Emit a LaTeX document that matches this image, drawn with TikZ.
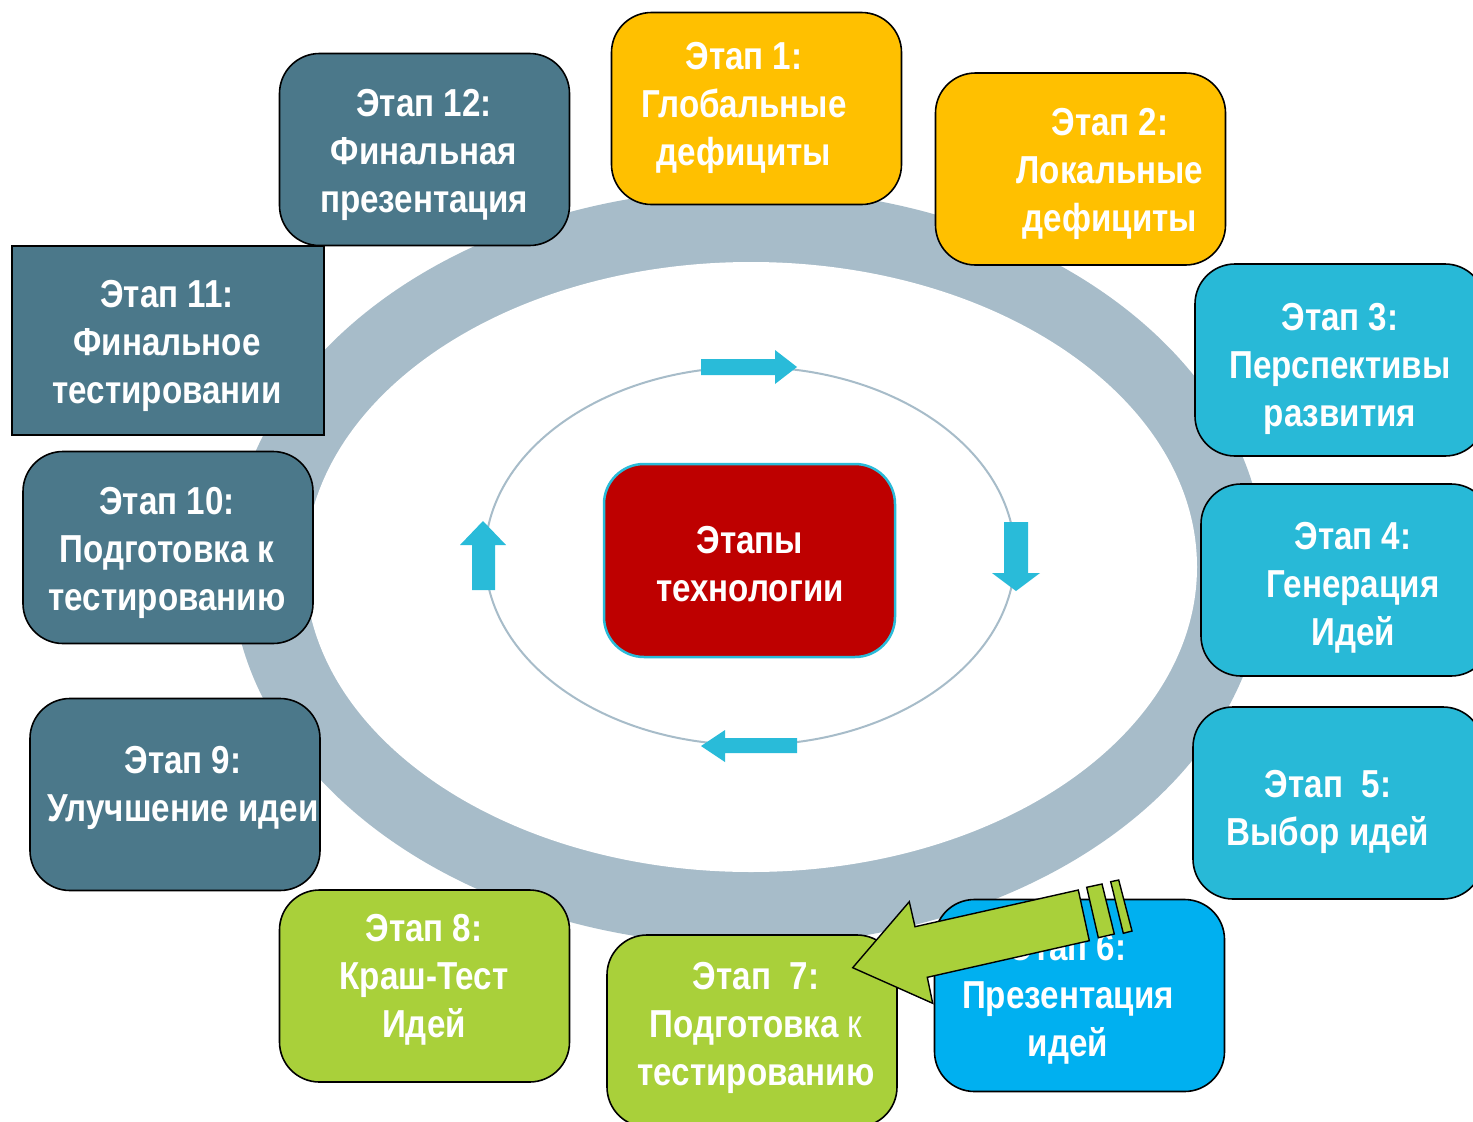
\documentclass[tikz,border=0pt]{standalone}
\usepackage{fontspec}
\setmainfont{Liberation Sans}[FakeStretch=0.85]
\definecolor{ring}{HTML}{A7BCC9}
\definecolor{yel}{HTML}{FFC000}
\definecolor{teal}{HTML}{28B9D7}
\definecolor{blu}{HTML}{00B0F0}
\definecolor{grn}{HTML}{A9D03A}
\definecolor{slate}{HTML}{4B788A}
\definecolor{redc}{HTML}{BE0000}
\definecolor{acyan}{HTML}{29BBD9}
\begin{document}
\begin{tikzpicture}[x=1pt,y=-1pt,
  box/.style={draw=black, line width=1.6pt, rounded corners=40pt, minimum width=290pt, minimum height=192pt, inner sep=0pt},
  lbl/.style={text=white, font=\bfseries\fontsize{39}{48}\selectfont, align=center, inner sep=0pt},
  smallarrow/.style={fill=acyan},
  bigarrow/.style={fill=grn, draw=black, line width=1.4pt, line join=miter}]
\clip (0,0) rectangle (1473,1122);
\fill[white] (0,0) rectangle (1473,1122);
% ring
\fill[ring] (748,567) ellipse [x radius=517pt, y radius=378pt];
\fill[white] (751,567) ellipse [x radius=446pt, y radius=305pt];
\draw[ring, line width=2pt] (750,556) ellipse [x radius=265pt, y radius=189pt];
% small arrows
\fill[smallarrow] (701,359) -- (775,359) -- (775,350) -- (797,367) -- (775,384) -- (775,375) -- (701,375) -- cycle;
\fill[smallarrow] (1004,522) -- (1028,522) -- (1028,573) -- (1040,573) -- (1016,591) -- (992,573) -- (1004,573) -- cycle;
\fill[smallarrow] (797,738) -- (725,738) -- (725,730) -- (701,746) -- (725,762) -- (725,753) -- (797,753) -- cycle;
\fill[smallarrow] (472,590) -- (472,545) -- (460,545) -- (483,521) -- (506,545) -- (495,545) -- (495,590) -- cycle;
% center
\node[box, draw=acyan, line width=2.5pt, fill=redc, minimum width=291pt, minimum height=193pt] (c) at (749.5,560.5) {};
\node[lbl] (ct) at (750,564) {Этапы\\технологии};
% stage boxes
\node[box, fill=yel] (s1) at (756.5,108.5) {};
\node[box, fill=yel] (s2) at (1080.5,169) {};
\node[box, fill=teal] (s3) at (1340,360) {};
\node[box, fill=teal] (s4) at (1346,580) {};
\node[box, fill=teal] (s5) at (1338,803) {};
\node[box, fill=blu] (s6) at (1079.5,995.5) {};
\node[box, fill=grn] (s7) at (752,1031) {};
\node[box, fill=grn] (s8) at (424.5,986) {};
\node[box, fill=slate] (s9) at (175,794.5) {};
\node[box, fill=slate] (s10) at (168,547.5) {};
\node[box, fill=slate, rounded corners=0pt, minimum width=312pt, minimum height=189pt] (s11) at (168,340.5) {};
\node[box, fill=slate] (s12) at (424.5,149.5) {};
% labels
\node[lbl] (t1) at (744,108) {Этап 1:\\Глобальные\\дефициты};
\node[lbl] (t2) at (1110,174) {Этап 2:\\Локальные\\дефициты};
\node[lbl] (t3) at (1340,369) {Этап 3:\\Перспективы\\развития};
\node[lbl] (t4) at (1353,588) {Этап 4:\\Генерация\\Идей};
\node[lbl] (t5) at (1328,812) {Этап\ \ 5:\\Выбор идей};
\node[lbl] (t6) at (1068,999) {Этап 6:\\Презентация\\идей};
\node[lbl] (t7) at (756,1028) {Этап\ \ 7:\\Подготовка {\mdseries к}\\тестированию};
\node[lbl] (t8) at (424,980) {Этап 8:\\Краш-Тест\\Идей};
\node[lbl] (t9) at (183,788) {Этап 9:\\Улучшение идеи};
\node[lbl] (t10) at (167,553) {Этап 10:\\Подготовка к\\тестированию};
\node[lbl] (t11) at (167,346) {Этап 11:\\Финальное\\тестировании};
\node[lbl] (t12) at (424,155) {Этап 12:\\Финальная\\презентация};
% big striped arrow from stage 6 to stage 7
\draw[bigarrow] (852.7,967.7) -- (909.3,901.7) -- (915,926.7) -- (1078.3,890) -- (1089.3,940.7) -- (927.3,977.3) -- (932.7,1003.3) -- cycle;
\draw[bigarrow] (1086.7,887.3) -- (1102,884) -- (1114.3,934) -- (1098.3,937.7) -- cycle;
\draw[bigarrow] (1110.7,881.7) -- (1118.7,880) -- (1132,931) -- (1123.3,933.3) -- cycle;
\end{tikzpicture}
\end{document}
